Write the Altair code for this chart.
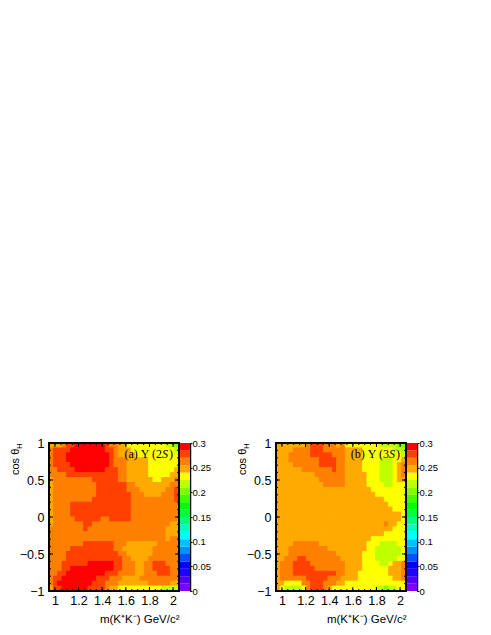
import altair as alt
import pandas as pd

# level codes for each bin: rows run from cos=+1 (top) to cos=-1 (bottom), 30 mass bins per row
levels = {"R": 0.2925, "D": 0.2775, "O": 0.2625, "A": 0.2475, "Y": 0.2325, "L": 0.2175, "G": 0.2025}

rows_a = [
    "AAAODDRRRRRRRDO" "OAAYYYYYYYYYLLG",
    "ODDDDRRRRRRRRDD" "OAAAYYYYYYYYYYL",
    "ODDDRRRRRRRRRRD" "OAAAAYYYYYYYYYY",
    "ODDDRRRRRRRRRRD" "OOOAAAAAYYYYYYY",
    "ODDDDRRRRRRRRRD" "OOOAAAAAYYYYYYY",
    "OODDDDRRRRRRRDD" "DOOAAAAAYYYYYYA",
    "OOOODDDDDDDDDDD" "DOOAAAAAYYYYYAA",
    "AOOOOOOOOODDDDD" "DOOAAAAAAYYAAAO",
    "AOOOOOOOOOODDDD" "DDDOOAAAAAAAAOO",
    "AOOOOOOOOOODDDD" "DDDOOOAAAAAAOOD",
    "AOOOOOOOOOODDDD" "DDDDOOOAAAAOOOD",
    "AOOOOOOOOODDDDD" "DDDDOOOOOOOOOOD",
    "AOOOODDDDDDDDDD" "DDDDOOOOOOOOOOO",
    "AOOOODDDDDDDDDD" "DDDDOOOOOOOOOOO",
    "AOOOODDDDDDDDDD" "DDDDOOOOOOOOOOO",
    "AOOOOODDDDDDOOD" "DDDDOOOOOOOOOOO",
    "AOOOOOOODDOOOOO" "OOOOOOOOOOOOOAA",
    "OOOOOOOODOOOOOO" "OOOOOOOOOOOOAAA",
    "OOOOOOOOOOOOOOO" "OOOOOOOOOOOOAAA",
    "OOOOOOOOOOOOOOO" "OOOOOOOOOOOOAOO",
    "OOOOOOOODDDDDDD" "OOOAAAAAAAOOOOO",
    "OOOOODDDDDDDDDD" "OOAAAAAAAOOOOOO",
    "OOOODDDDDDDDDDD" "DOOAAAAAAOOOOOO",
    "OOOODDDDDDDDDDD" "DDOOAAAAOOOOOOO",
    "OOODDDDDDRRRRRR" "DDOOOAAOODDDOOO",
    "OOODDRRRRRRRRRR" "DDOOOAAOODDDDOO",
    "OODDRRRRRRRRRDD" "DOOOOAAOOODDDOO",
    "ODDRRRRRRRRDDDO" "OOAAAAOOOOOOOOO",
    "ODRRRRRRRRDDDOO" "OAAAAAAAOOOOOAA",
    "ADDRRRRRRDDDDOA" "AYYYYYYYYYYLLLL",
]

rows_b = [
    "AAAAAAAODDDOOOA" "OYYYYYYYYLLLLGG",
    "AAAAOOOODDDOOOO" "OAAAAYYYYYYYLLL",
    "AAAOOOOODDDDDOO" "OAAAAYYYYYYYYYL",
    "AAAOOOOOOODDDDO" "OAAAAYYYYLLLYYA",
    "AAAAOOOOOODDDDO" "OAAAAYYYYLLLYAO",
    "AAAAAAOOOOOOODO" "OAAAAYYYYLLLYAO",
    "AAAAAAAAAOOOOOO" "OAAAAAYYYLLLYAO",
    "AAAAAAAAAAOOOOO" "OAAAAAYYYLLLYAA",
    "AAAAAAAAAAAOOOO" "OAAAAAYYYYLLYYY",
    "AAAAAAAAAAAAAAA" "AAAAAAAYYYYYYYY",
    "AAAAAAAAAAAAAAA" "AAAAAAAAYYYYYYY",
    "AAAAAAAAAAAAAAA" "AAAAAAAAAAYYYYY",
    "AAAAAAAAAAAAAAA" "AAAAAAAAAAAYYYY",
    "AAAAAAAAAAAAAAA" "AAAAAAAAAAAAYYY",
    "AAAAAAAAAAAAAAA" "AAAAAAAAAAAAAAY",
    "AAAAAAAAAAAAAAA" "AAAAAAAAAAAAAAY",
    "AAAAAAAAAAAAAAA" "AAAAAAAAAAOAAYY",
    "AAAAAAAAAAAAAAA" "AAAAAAAAAAAAYYY",
    "AAAAAAAAAAAAAAA" "AAAAAAAAAAYYYYY",
    "AAAAAAAAAAAAAAA" "AAAAAAAYYYYYYYY",
    "AAAAOOOOOOAAAAA" "AAAAAAYYYLLLLYY",
    "AAAOOOOOOOOOAAA" "AAAAAAYYLLLLLLY",
    "AAAOOOOOOOOOOOA" "AAAAAYYYLLLLLLY",
    "AAOOODDOOOOOOOO" "AAAAAYYYLLLLLYY",
    "AOOODDDDOOOOOOO" "OAAAAYYYYLLYAAO",
    "AOOODDDDDOOOOOO" "OAAAAYYYYYYAAAO",
    "AOOODDDDDDDDDDO" "OAAAYYYYYYYAAAO",
    "AOOOOOODDDDDOOO" "AAAAYYYYYYYYAAO",
    "AAYYYYOODDDOOOA" "AYYYYYYYYYYYYYY",
    "AYLLLLYODDDOAYY" "YYYYYYYYLLGLLYY",
]

x_min, x_max = 0.95, 2.05
palette = ["#8000ff", "#5000ff", "#2000ff", "#0000ff", "#0050ff", "#0090ff", "#00c0ff", "#00ffff",
           "#00ffc0", "#00ff80", "#00ff40", "#00ff00", "#40ff00", "#80ff00", "#c0ff00", "#ffff00",
           "#ffaa00", "#ff8000", "#ff4000", "#ff0000"]
edges = [round(0.015 * i, 3) for i in range(21)]
x_major = [1.0, 1.2, 1.4, 1.6, 1.8, 2.0]
x_minor = [round(0.95 + 0.05 * i, 2) for i in range(23)]
y_major = [-1.0, -0.5, 0.0, 0.5, 1.0]
y_minor = [round(-1 + 0.1 * i, 1) for i in range(21)]
bar_ticks = [0, 0.05, 0.1, 0.15, 0.2, 0.25, 0.3]

W, H = 130, 148
FONT = "Liberation Sans"
SERIF = "Liberation Serif"
color = alt.Scale(type="threshold", domain=edges[1:-1], range=palette)
xs = alt.Scale(domain=[x_min, x_max], nice=False, zero=False)
ys = alt.Scale(domain=[-1, 1], nice=False, zero=False)
one = pd.DataFrame({"a": [0]})

x_axis = alt.Axis(
    values=x_major, format="~g", tickSize=0, domain=False, grid=False, title="m(K⁺K⁻) GeV/c²",
    labelFont=FONT, labelFontSize=12.5, labelPadding=3, labelColor="black",
    titleFont=FONT, titleFontSize=11.5, titleFontWeight="normal", titleColor="black",
    titleAnchor="end", titlePadding=7)
y_axis = alt.Axis(
    values=y_major, format="~g", tickSize=0, domain=False, grid=False, title=None,
    labelFont=FONT, labelFontSize=12.5, labelPadding=5, labelColor="black")


def cells(rows):
    nx, ny = len(rows[0]), len(rows)
    out = []
    for j, row in enumerate(rows):
        assert len(row) == nx, j
        for i, c in enumerate(row):
            out.append({
                "x0": x_min + (x_max - x_min) * i / nx,
                "x1": x_min + (x_max - x_min) * (i + 1) / nx,
                "y1": 1 - 2 * j / ny,
                "y0": 1 - 2 * (j + 1) / ny,
                "v": levels[c],
            })
    return pd.DataFrame(out)


def xticks(vals, size):
    d = pd.DataFrame({"t": vals})
    x = alt.X("t:Q", scale=xs, axis=x_axis)
    return [
        alt.Chart(d).mark_rule(color="black", strokeWidth=1).encode(x=x, y=alt.value(0), y2=alt.value(size)),
        alt.Chart(d).mark_rule(color="black", strokeWidth=1).encode(x=x, y=alt.value(H), y2=alt.value(H - size)),
    ]


def yticks(vals, size):
    d = pd.DataFrame({"t": vals})
    y = alt.Y("t:Q", scale=ys, axis=y_axis)
    return [
        alt.Chart(d).mark_rule(color="black", strokeWidth=1).encode(y=y, x=alt.value(0), x2=alt.value(size)),
        alt.Chart(d).mark_rule(color="black", strokeWidth=1).encode(y=y, x=alt.value(W), x2=alt.value(W - size)),
    ]


def label(text, x, y, **kw):
    return alt.Chart(one).mark_text(text=text, color="black", **kw).encode(x=alt.value(x), y=alt.value(y))


def panel(rows, tag, state):
    heat = alt.Chart(cells(rows)).mark_rect(strokeWidth=1).encode(
        x=alt.X("x0:Q", scale=xs, axis=x_axis),
        x2="x1:Q",
        y=alt.Y("y0:Q", scale=ys, axis=y_axis),
        y2="y1:Q",
        color=alt.Color("v:Q", scale=color, legend=None),
        stroke=alt.Stroke("v:Q", scale=color, legend=None),
    )
    frame = alt.Chart(one).mark_rect(fillOpacity=0, stroke="black", strokeWidth=2).encode(
        x=alt.value(0), x2=alt.value(W), y=alt.value(0), y2=alt.value(H))
    texts = [
        label("cos θ", -33, 32, font=FONT, fontSize=11, angle=270, align="left", baseline="middle"),
        label("H", -29, 6, font=FONT, fontSize=8, angle=270, align="left", baseline="middle"),
        label(tag + " Υ (" + state, 113, 11, font=SERIF, fontSize=12, align="right", baseline="middle"),
        label("S", 113, 11, font=SERIF, fontSize=12, fontStyle="italic", align="left", baseline="middle"),
        label(")", 120, 11, font=SERIF, fontSize=12, align="left", baseline="middle"),
    ]
    return alt.layer(heat, *xticks(x_minor, 2), *xticks(x_major, 4), *yticks(y_minor, 2), *yticks(y_major, 4),
                     frame, *texts).properties(width=W, height=H)


def colorbar():
    d = pd.DataFrame({"lo": edges[:-1], "hi": edges[1:], "mid": [e + 0.0075 for e in edges[:-1]]})
    return alt.Chart(d).mark_rect().encode(
        x=alt.value(0), x2=alt.value(10),
        y=alt.Y("lo:Q", scale=alt.Scale(domain=[0, 0.3], nice=False), axis=alt.Axis(
            orient="right", values=bar_ticks, format="~g", tickSize=2, tickColor="black", domainColor="black",
            domainWidth=1.5, grid=False, title=None, labelFont=FONT, labelFontSize=9.5, labelPadding=0,
            labelColor="black")),
        y2="hi:Q",
        color=alt.Color("mid:Q", scale=color, legend=None),
    ).properties(width=10, height=H)


chart = alt.hconcat(
    alt.hconcat(panel(rows_a, "(a)", "2"), colorbar(), spacing=0),
    alt.hconcat(panel(rows_b, "(b)", "3"), colorbar(), spacing=0),
    spacing=26,
).properties(padding={"left": 2, "top": 429, "right": 0, "bottom": 0}, background="white"
).configure_view(stroke=None)

chart.save("out.html", embed_options={"renderer": "svg", "actions": False})
